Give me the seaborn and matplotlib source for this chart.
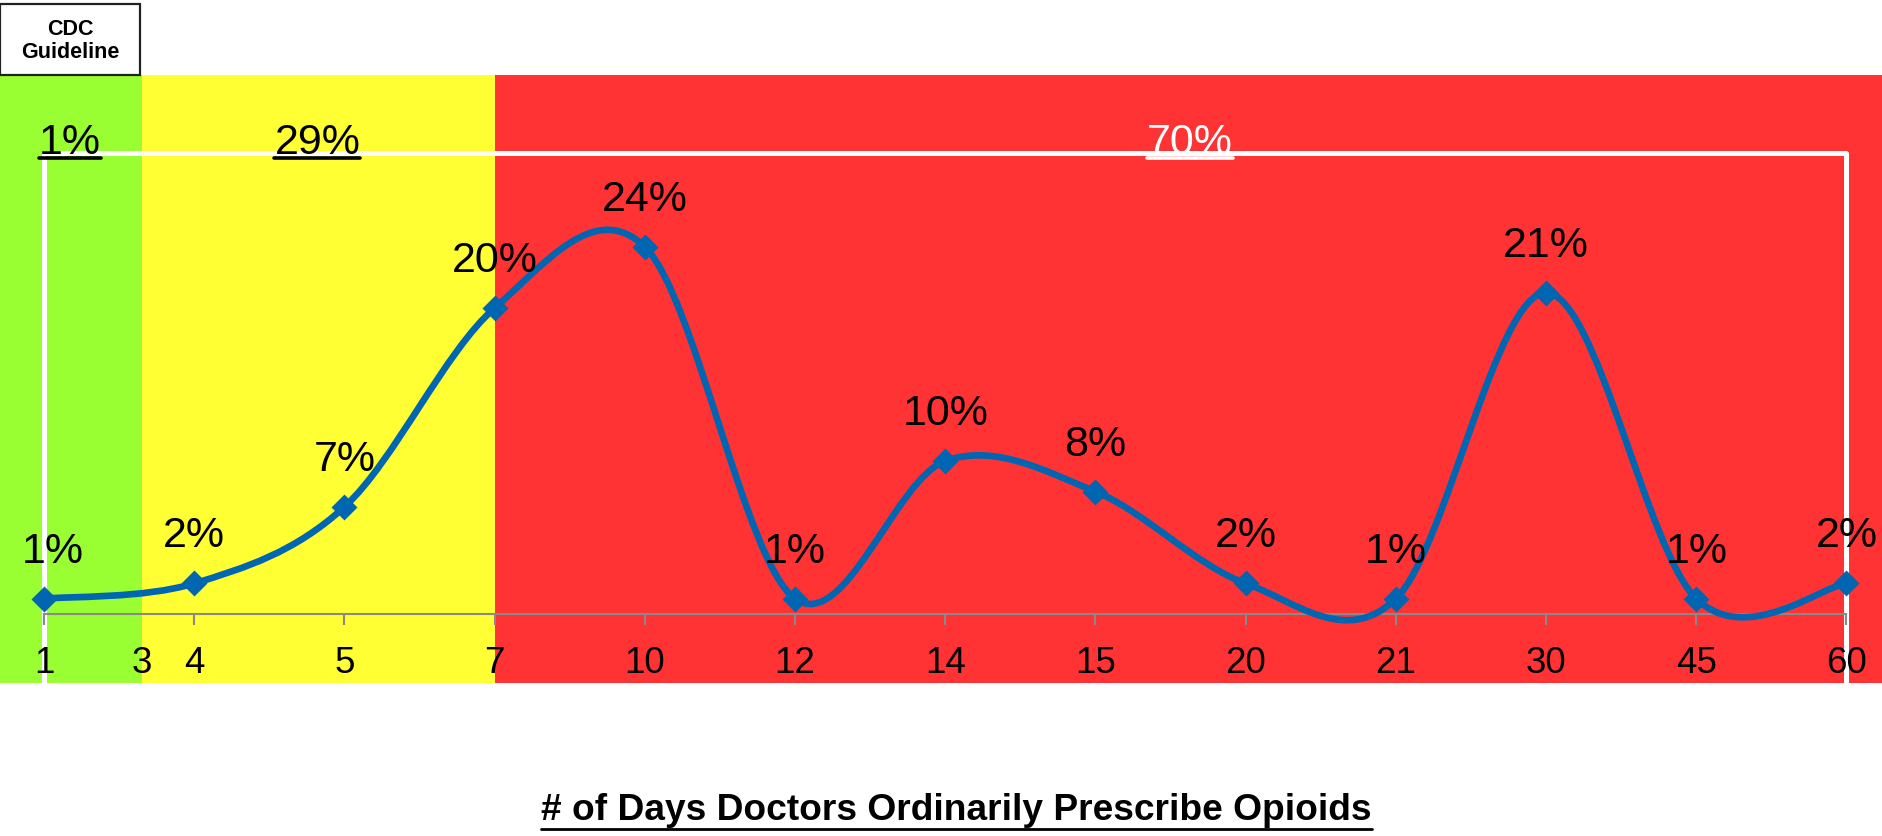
import numpy as np
import pandas as pd
import matplotlib.pyplot as plt
import seaborn as sns
from matplotlib.path import Path
from matplotlib.patches import PathPatch, Rectangle
from matplotlib.lines import Line2D

# Share of doctors by number of days they ordinarily prescribe opioids
days = ["1", "4", "5", "7", "10", "12", "14", "15", "20", "21", "30", "45", "60"]
share = [1, 2, 7, 20, 24, 1, 10, 8, 2, 1, 21, 1, 2]

# CDC guideline zones (<=3 days, 4-7 days, >7 days)
guideline_day = "3"
zone_totals = ["1%", "29%", "70%"]
zone_colors = ["#99FF33", "#FFFF33", "#FF3333"]
zone_text_colors = ["black", "black", "white"]

blue = "#0066B2"
gray = "#898989"

sns.set_style("white")
plt.rcParams["font.family"] = ["Liberation Sans", "DejaVu Sans"]
plt.rcParams["text.color"] = "black"
plt.rcParams["xtick.color"] = "black"

df = pd.DataFrame({"days": days, "share": share})
df["pos"] = np.arange(len(df))

fig = plt.figure(figsize=(18.83, 8.37), dpi=100)
ax = fig.add_axes([0, 0.1828, 1, 0.7264])
ax.set_axisbelow(False)
xlim = (-0.293, 12.243)
ylim = (-4.51, 35.23)

# background zones
green_end = 0.65
yellow_end = days.index("7")
ax.axvspan(xlim[0], green_end, color=zone_colors[0], lw=0, zorder=0)
ax.axvspan(green_end, yellow_end, color=zone_colors[1], lw=0, zorder=0)
ax.axvspan(yellow_end, xlim[1], color=zone_colors[2], lw=0, zorder=0)

# smoothed line (bezier through the points, like Excel's smooth line)
pts = df[["pos", "share"]].to_numpy(float)
ext = np.vstack([pts[0], pts, pts[-1]])
verts = [pts[0]]
codes = [Path.MOVETO]
for i in range(len(pts) - 1):
    c1 = pts[i] + (ext[i + 2] - ext[i]) / 6
    c2 = pts[i + 1] - (ext[i + 3] - ext[i + 1]) / 6
    verts += [c1, c2, pts[i + 1]]
    codes += [Path.CURVE4] * 3
ax.add_patch(PathPatch(Path(verts, codes), fill=False, ec=blue, lw=4.8,
                       capstyle="round", joinstyle="round", zorder=4))

sns.scatterplot(data=df, x="pos", y="share", marker="D", s=175, color=blue,
                edgecolor=blue, linewidth=0, zorder=5, ax=ax, legend=False)

# data labels (first one nudged right like in the original)
for k, (p, v) in enumerate(zip(df["pos"], df["share"])):
    dx = 6 if k == 0 else 0
    ax.annotate(f"{v}%", (p, v), xytext=(dx, 34.5), textcoords="offset points",
                ha="center", va="center", fontsize=31, zorder=6)

# white bracket spanning the whole range
bracket_y = 30.1
ax.plot([0, 0, len(df) - 1, len(df) - 1], [ylim[0], bracket_y, bracket_y, ylim[0]],
        color="white", lw=3.6, solid_joinstyle="round", clip_on=False, zorder=1)

zone_text_x = [0.17, 1.82, 7.63]
zone_texts = []
for tx, lab, c in zip(zone_text_x, zone_totals, zone_text_colors):
    t = ax.text(tx, bracket_y, lab, ha="center", va="baseline", fontsize=31,
                color=c, zorder=6)
    zone_texts.append((t, c))

# x axis at zero
ax.set_xlim(xlim)
ax.set_ylim(ylim)
ax.set_xlabel("")
ax.set_ylabel("")
ax.set_yticks([])
for s in ["left", "top", "right"]:
    ax.spines[s].set_visible(False)
ax.spines["bottom"].set_position(("data", 0))
ax.spines["bottom"].set_bounds(0, len(df) - 1)
ax.spines["bottom"].set_color(gray)
ax.spines["bottom"].set_linewidth(1.5)
ax.spines["bottom"].set_zorder(2)

tick_pos = [0, green_end] + list(df["pos"][1:])
tick_lab = [days[0], guideline_day] + days[1:]
ax.set_xticks(tick_pos)
ax.set_xticklabels(tick_lab)
ax.tick_params(axis="x", length=8, width=1.5, color=gray, pad=14,
               labelsize=26.5, labelcolor="black", direction="out", bottom=True)
ax.xaxis.get_major_ticks()[1].tick1line.set_visible(False)

# CDC guideline box
fig.add_artist(Rectangle((0, 1 - 76 / 837), 140 / 1883, 71 / 837,
                         transform=fig.transFigure, fill=False, ec="#222222", lw=1.6))
fig.text(70 / 1883, 1 - 41 / 837, "CDC\nGuideline", ha="center", va="center",
         fontsize=15.5, fontweight="bold", linespacing=1.15)

title = fig.text(0.508, 1 - 820 / 837, "# of Days Doctors Ordinarily Prescribe Opioids",
                 ha="center", va="baseline", fontsize=26.7, fontweight="bold")

# underline texts
fig.canvas.draw()
renderer = fig.canvas.get_renderer()


def underline(t, color, gap, lw):
    bb = t.get_window_extent(renderer)
    base = t.get_transform().transform(t.get_position())[1]
    x0, y0 = fig.transFigure.inverted().transform((bb.x0, base - gap))
    x1, _ = fig.transFigure.inverted().transform((bb.x1, base - gap))
    fig.add_artist(Line2D([x0, x1], [y0, y0], color=color, lw=lw,
                          transform=fig.transFigure, zorder=7))


for t, c in zone_texts:
    underline(t, c, 5, 2.6)
underline(title, "black", 10, 2)

fig.savefig("out.png", dpi=100)
